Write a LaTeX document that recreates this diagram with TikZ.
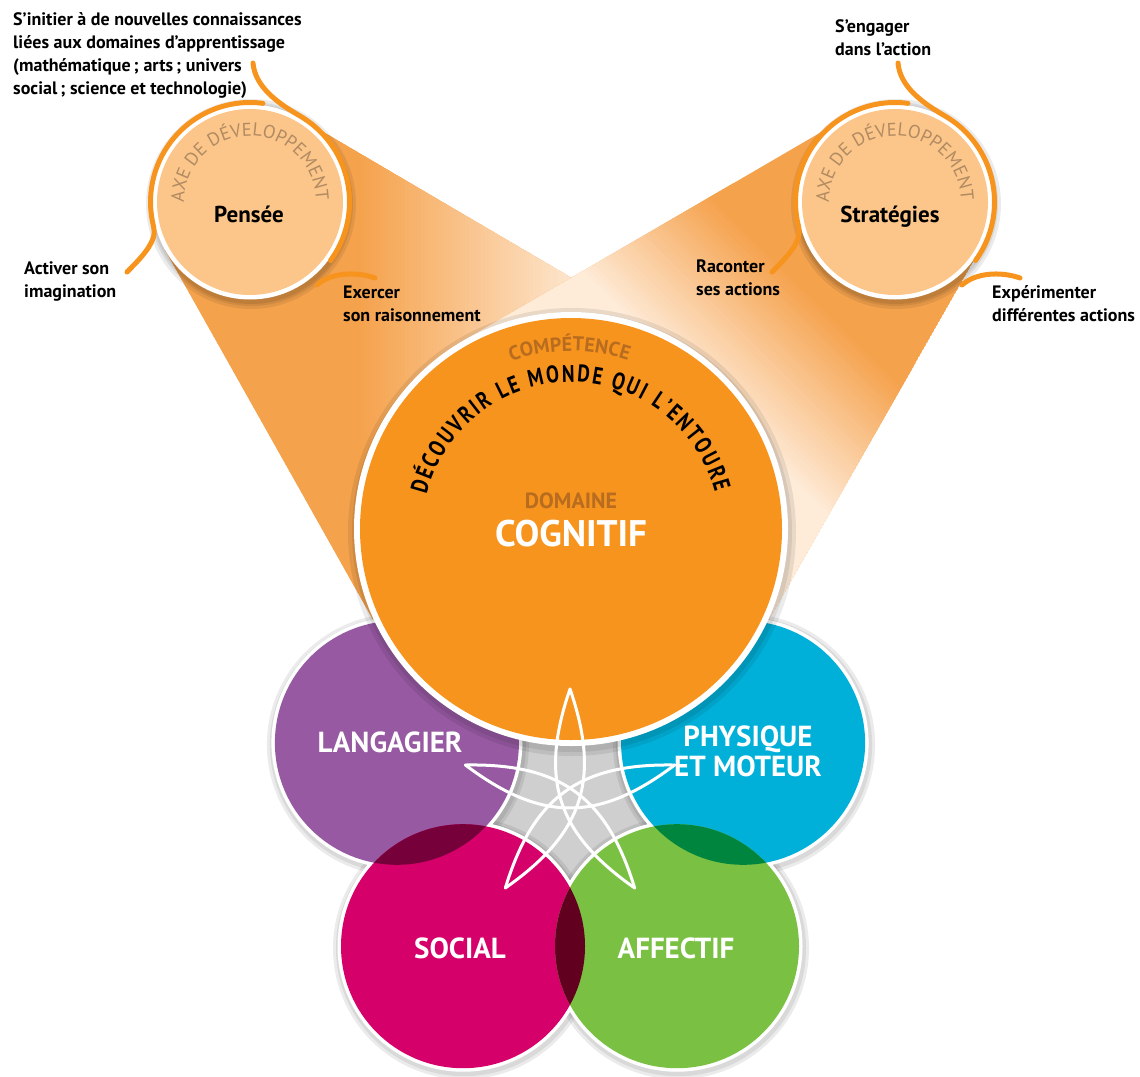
\documentclass[tikz,border=0pt]{standalone}
\usepackage{fontspec}
\setmainfont{PT Sans}
\newfontfamily\condfont{PT Sans}[FakeStretch=0.8]
\usetikzlibrary{decorations.text}
\definecolor{cog}{HTML}{F7941E}
\definecolor{peach}{HTML}{FCC589}
\definecolor{lpurple}{HTML}{9659A2}
\definecolor{lcyan}{HTML}{00B0D9}
\definecolor{lpink}{HTML}{D6006B}
\definecolor{lgreen}{HTML}{7AC143}
\definecolor{cgray}{HTML}{CFCFCF}
\definecolor{darkA}{HTML}{76003A}
\definecolor{darkB}{HTML}{00853F}
\definecolor{darkC}{HTML}{62001F}
\definecolor{axecol}{HTML}{B08B62}
\definecolor{compcol}{HTML}{B86C1F}
\definecolor{beamor}{HTML}{F5A24D}
\definecolor{beamlt}{HTML}{FEEBD8}
\tikzset{
  lab/.style={anchor=base west, align=left, inner sep=0pt, text=black, font=\bfseries\fontsize{18}{23}\selectfont},
  lowlab/.style={inner sep=0pt, text=white, font=\bfseries\fontsize{29}{30}\selectfont},
  titlab/.style={anchor=base, inner sep=0pt, text=black, font=\bfseries\fontsize{23}{23}\selectfont},
  arcline/.style={draw=cog, line width=5pt, line cap=round},
  starline/.style={draw=white, line width=3pt, line cap=round},
  shadowfill/.style={fill=black, opacity=0.08}
}
% beam: #1,#2 = origin, #3,#4 = gradient direction (unit), #5 = clip polygon,
% #6 = distance where the fade starts, #7 = length of the fade
\newcommand\beamfill[7]{%
  \begin{scope}
    \clip #5;
    \fill[beamor] #5;
    \foreach \i in {0,...,150}{
      \pgfmathsetmacro\aa{100+\i*4}
      \pgfmathsetmacro\ab{\aa+5}
      \pgfmathtruncatemacro\pct{min(100,max(0,(\aa+2-#6)/#7*100))}
      \fill[beamlt!\pct!beamor]
        ({#1+\aa*#3-450*#4},{#2+\aa*#4+450*#3}) --
        ({#1+\ab*#3-450*#4},{#2+\ab*#4+450*#3}) --
        ({#1+\ab*#3+450*#4},{#2+\ab*#4-450*#3}) --
        ({#1+\aa*#3+450*#4},{#2+\aa*#4-450*#3}) -- cycle;
    }
  \end{scope}}
\newcommand\axegroup[1]{%
  \begin{scope}[shift={(#1,202)}]
    \fill[shadowfill] (1,2) circle (105);
    \fill[shadowfill] (1,2) circle (102);
    \fill[shadowfill] (1,2) circle (100);
    \fill[white] (0,0) circle (97.5);
    \fill[peach] (0,0) circle (93);
    \draw[arcline] (3,-139) .. controls (5,-115) and (28.1,-98.7) .. (300:99.5)
      arc[start angle=300, end angle=396, radius=99.5];
    \draw[arcline] (277.5:99.5) arc[start angle=277.5, end angle=165.5, radius=99.5]
      .. controls (-92.5,39.4) and (-109,56) .. (-123,70);
    \draw[arcline] (67,83) .. controls (80,71) and (105,69) .. (125,76);
    \path[decorate, decoration={text along path,
      text={|\color{axecol}\fontsize{18.5}{18.5}\selectfont|AXE DE DÉVELOPPEMENT},
      text align=center}]
      (169:66) arc[start angle=169, end angle=369, radius=66];
  \end{scope}}
\begin{document}
\begin{tikzpicture}[x=1pt, y=-1pt]
\useasboundingbox (0,0) rectangle (1140,1076);
% beams
\beamfill{65}{400}{1}{0}{(299.4,117.9) -- (680.8,341.9) -- (381.9,635.4) -- (165.0,249.8) -- cycle}{295}{230}
\beamfill{895}{202}{-0.7039}{0.7104}{(845.9,117.7) -- (461.8,341.5) -- (759.5,636.5) -- (979.7,250.3) -- cycle}{125}{145}
% centre
\coordinate (cC) at (571,529);
\coordinate (cL) at (396.9,742.8);
\coordinate (cP) at (743.1,742.8);
\coordinate (cS) at (463,946.2);
\coordinate (cA) at (677,946.2);
\fill[cgray] (cL) -- (cC) -- (cP) -- (cA) -- (cS) -- cycle;
% lower circles
\foreach \c in {cL,cP,cS,cA}{
  \fill[shadowfill] ([shift={(1,2)}]\c) circle (131);
  \fill[shadowfill] ([shift={(1,2)}]\c) circle (128);
}
\foreach \c in {cL,cP,cS,cA}{ \fill[white] (\c) circle (125.5); }
\fill[lpurple] (cL) circle (122);
\fill[lcyan] (cP) circle (122);
\fill[lpink] (cS) circle (122);
\fill[lgreen] (cA) circle (122);
\begin{scope} \clip (cS) circle (122); \fill[darkA] (cL) circle (122); \end{scope}
\begin{scope} \clip (cA) circle (122); \fill[darkB] (cP) circle (122); \end{scope}
\begin{scope} \clip (cS) circle (122); \fill[darkC] (cA) circle (122); \end{scope}
\node[lowlab, anchor=base] (langagier) at (390,752) {LANGAGIER};
\node[lowlab, anchor=north, align=center] (physique) at (748,726) {PHYSIQUE\\ET MOTEUR};
\node[lowlab, anchor=base] (social) at (460,958) {SOCIAL};
\node[lowlab, anchor=base] (affectif) at (676,958) {AFFECTIF};
% big circle
\fill[shadowfill] ([shift={(1,3)}]cC) circle (224);
\fill[shadowfill] ([shift={(1,3)}]cC) circle (220);
\fill[white] (cC) circle (217);
\fill[cog] (cC) circle (211);
\path[decorate, decoration={text along path,
  text={|\color{compcol}\bfseries\fontsize{20}{20}\selectfont|COMPÉTENCE},
  text align=center}]
  (571,531) ++(239:180) arc[start angle=239, end angle=300, radius=180];
\path[decorate, decoration={text along path,
  text={|\color{black}\condfont\bfseries\fontsize{24}{24}\selectfont|DÉCOUVRIR LE MONDE QUI L’ENTOURE},
  text align=fit to path}]
  (571,531) ++(194:149) arc[start angle=194, end angle=345, radius=149];
\node[anchor=base, inner sep=0pt, text=compcol, font=\bfseries\fontsize{22}{22}\selectfont] (domaine) at (571,508) {DOMAINE};
\node[anchor=base, inner sep=0pt, text=white, font=\bfseries\fontsize{37}{37}\selectfont] (cognitif) at (571,546) {COGNITIF};
% star
\foreach \k in {0,...,4}{
  \draw[starline, rotate around={72*\k:(570,799)}] (570,689) .. controls (601,778.9) and (583.3,833.5) .. (505.3,888);
}
% small circles
\axegroup{250}
\axegroup{895}
\node[titlab] (pensee) at (249,222) {Pensée};
\node[titlab] (strategies) at (890,222) {Stratégies};
% labels (anchor = baseline of last line)
\node[lab] (sinitier) at (13,94) {S’initier à de nouvelles connaissances\\liées aux domaines d’apprentissage\\(mathématique\,; arts\,; univers\\social\,; science et technologie)};
\node[lab] (sengager) at (835,55) {S’engager\\dans l’action};
\node[lab] (activer) at (24,297) {Activer son\\imagination};
\node[lab] (exercer) at (343,321) {Exercer\\son raisonnement};
\node[lab] (raconter) at (696,295) {Raconter\\ses actions};
\node[lab] (experimenter) at (992,321) {Expérimenter\\différentes actions};
\end{tikzpicture}
\end{document}
